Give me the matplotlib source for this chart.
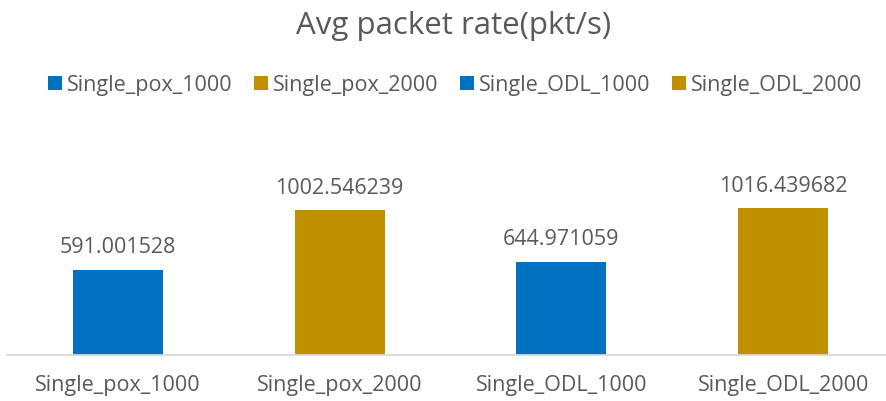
import matplotlib
matplotlib.use("Agg")
import matplotlib.pyplot as plt

categories = ["Single_pox_1000", "Single_pox_2000", "Single_ODL_1000", "Single_ODL_2000"]
values = [591.001528, 1002.546239, 644.971059, 1016.439682]
value_labels = ["591.001528", "1002.546239", "644.971059", "1016.439682"]
colors = ["#0070C0", "#BF9000", "#0070C0", "#BF9000"]

plt.rcParams['font.family'] = ['Open Sans', 'DejaVu Sans']
TXT = "#595959"

W, H = 886, 402
fig = plt.figure(figsize=(W / 100, H / 100), dpi=100)
left_px, right_px = 7, 894
base_px, top_px = 356, 150
ax = fig.add_axes([left_px / W, (H - base_px) / H, (right_px - left_px) / W, (base_px - top_px) / H])

x = list(range(len(categories)))
bars = []
for i in x:
    b = ax.bar(i, values[i], width=0.405, color=colors[i], label=categories[i], zorder=2)
    bars.append(b)
    ax.bar_label(b, labels=[value_labels[i]], padding=9, fontsize=15.5, color=TXT)

ax.set_xlim(-0.5, 3.5)
ax.set_ylim(0, 1425)
ax.set_xticks(x)
ax.set_xticklabels(categories, fontsize=15.5, color=TXT)
ax.tick_params(axis='x', length=0, pad=14)
ax.set_yticks([])
for s in ['top', 'right', 'left']:
    ax.spines[s].set_visible(False)
ax.spines['bottom'].set_color('#D9D9D9')
ax.spines['bottom'].set_linewidth(1.3)

fig.text(454 / W, 1 - 26 / H, "Avg packet rate(pkt/s)", ha='center', va='center',
         fontsize=22.5, color=TXT)

leg = fig.legend(handles=[b[0] for b in bars], labels=categories, loc='center',
                 bbox_to_anchor=(455 / W, 1 - 86 / H), ncol=4, frameon=False,
                 fontsize=15.5, handlelength=0.65, handleheight=0.65,
                 handletextpad=0.23, columnspacing=1.0, borderpad=0)
for t in leg.get_texts():
    t.set_color(TXT)

fig.savefig("out.png", dpi=100)
